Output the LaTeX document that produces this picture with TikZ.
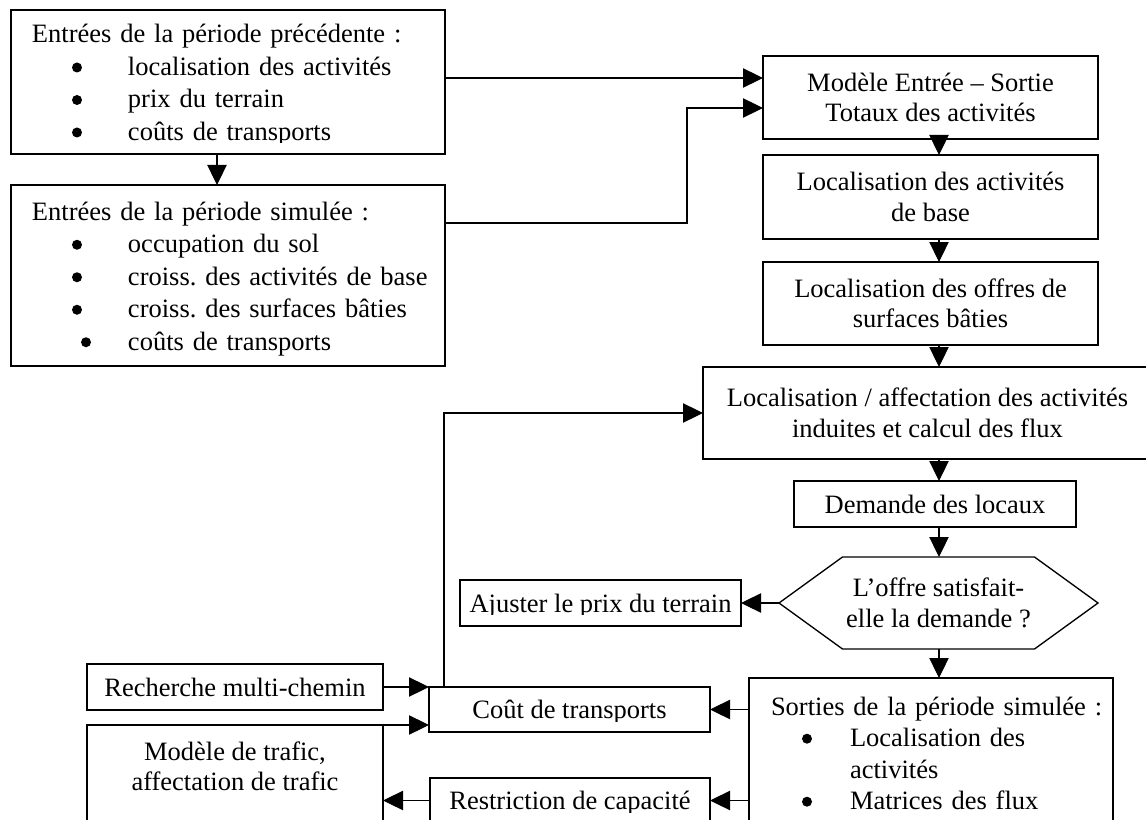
\documentclass[tikz,border=0pt]{standalone}
\usepackage{fontspec}
\setmainfont{Liberation Serif}
\usetikzlibrary{arrows.meta}
\frenchspacing

% one drawing unit (a "pixel" of the layout grid)
\newdimen\pxu \pxu=0.75pt
% strut that fixes line height/depth inside boxes
\newcommand\st{\rule[-0.2\baselineskip]{0pt}{\baselineskip}}
% round list bullet
\newcommand\bul{\tikz[baseline=-6pt]\fill (0,0) circle (3.75pt);}
% list item: bullet centre offset, text offset (from box edge), text
\newcommand\itm[3]{\hspace*{\dimexpr#1\pxu-5\pxu\relax}\makebox[10\pxu]{\bul}\hspace*{\dimexpr#2\pxu-#1\pxu-5\pxu\relax}#3\st}

\tikzset{
  txtfont/.style={font=\fontsize{19.875pt}{22.875pt}\selectfont},
  frame/.style={draw, line width=1pt, inner sep=0pt, outer sep=0pt, align=center, txtfont},
  bare/.style={frame, draw=none},
  listframe/.style={frame, align=left, text width=#1,
    font=\fontsize{19.875pt}{24.375pt}\selectfont},
  border/.style={line width=1pt},
  arr/.style={line width=0.8pt, -{Triangle[length=15pt,width=14.5pt]}},
}

\begin{document}
\begin{tikzpicture}[x=0.75pt, y=-0.75pt]
\useasboundingbox (0,0) rectangle (1146,820);
\clip (0,0) rectangle (1146,820);

% ---------- left column: inputs ----------
\begin{scope}
  \clip (0,0) rectangle (1146,142.5);
  \node[listframe=434\pxu, draw=none, minimum height=144\pxu] (prev) at (228,82) {%
    \hspace*{21\pxu}Entrées de la période précédente :\st\\
    \itm{66}{117}{localisation des activités}\\
    \itm{66}{117}{prix du terrain}\\
    \itm{66}{117}{coûts de transports}};
\end{scope}
\draw[border] (prev.north west) rectangle (prev.south east);

\node[listframe=434\pxu, minimum height=181\pxu] (sim) at (228,275.5) {%
  \hspace*{21\pxu}Entrées de la période simulée :\st\\
  \itm{66}{117}{occupation du sol}\\
  \itm{66}{117}{croiss. des activités de base}\\
  \itm{66}{117}{croiss. des surfaces bâties}\\
  \itm{75}{117}{coûts de transports}};

% ---------- right column: main chain ----------
\node[frame, minimum width=335\pxu, minimum height=83\pxu] (M) at (930.5,97.5)
  {Modèle Entrée – Sortie\st\\Totaux des activités\st};
\node[frame, minimum width=335\pxu, minimum height=84\pxu] (L1) at (930.5,197)
  {Localisation des activités\st\\de base\st};
\node[frame, minimum width=335\pxu, minimum height=83\pxu] (L2) at (930.5,303.5)
  {Localisation des offres de\st\\surfaces bâties\st};
\node[frame, minimum width=449\pxu, minimum height=92\pxu] (LA) at (927.5,413)
  {Localisation / affectation des activités\st\\induites et calcul des flux\st};
\node[frame, minimum width=282\pxu, minimum height=46\pxu] (dem) at (935,504)
  {Demande des locaux\st};

% decision hexagon
\node[bare, minimum width=319\pxu, minimum height=92\pxu] (hex) at (938.5,603)
  {L’offre satisfait-\st\\elle la demande ?\st};
\draw[border] (hex.west) -- ([xshift=63.5\pxu]hex.north west)
  -- ([xshift=-63.5\pxu]hex.north east) -- (hex.east)
  -- ([xshift=-63.5\pxu]hex.south east) -- ([xshift=63.5\pxu]hex.south west) -- cycle;

\begin{scope}
  \clip (0,0) rectangle (1146,614);
  \node[bare, minimum width=281\pxu, minimum height=46\pxu] (aj) at (600.5,603)
    {Ajuster le prix du terrain\st};
\end{scope}
\draw[border] (aj.north west) rectangle (aj.south east);

\node[listframe=364\pxu, minimum height=150\pxu,
      font=\fontsize{19.875pt}{23.625pt}\selectfont] (out) at (931,753) {%
  \hspace*{22\pxu}Sorties de la période simulée :\st\\
  \itm{58}{101}{Localisation des}\\
  \hspace*{101\pxu}activités\st\\
  \itm{58}{101}{Matrices des flux}};

% ---------- bottom: transport loop ----------
\begin{scope}
  \clip (0,0) rectangle (1146,721);
  \node[bare, minimum width=281\pxu, minimum height=45\pxu] (cout) at (569.5,709.5)
    {Coût de transports\st};
\end{scope}
\draw[border] (cout.north west) rectangle (cout.south east);

\begin{scope}
  \clip (0,0) rectangle (1146,812);
  \node[bare, minimum width=280\pxu, minimum height=45\pxu] (restr) at (570,800.5)
    {Restriction de capacité\st};
\end{scope}
\draw[border] (restr.north west) rectangle (restr.south east);

\node[frame, minimum width=296\pxu, minimum height=46\pxu] (rech) at (235,687)
  {Recherche multi-chemin\st};
\node[frame, minimum width=296\pxu, minimum height=113\pxu] (mt) at (235,781.5)
  {Modèle de trafic,\st\\affectation de trafic\st\\\st};

% ---------- connectors ----------
\coordinate (spine) at (939,0);
\coordinate (bend) at (687,108);
\coordinate (riser) at ([xshift=15\pxu]cout.north west);

\draw[arr] ([xshift=-11\pxu]prev.south) -- ([xshift=-11\pxu]sim.north);
\draw[arr] (prev.east |- 0,78) -- (M.west |- 0,78);
\draw[arr] (sim.east |- 0,223) -| (bend) -- (M.west |- bend);

\draw[arr] (M.south -| spine) -- (L1.north -| spine);
\draw[arr] (L1.south -| spine) -- (L2.north -| spine);
\draw[arr] (L2.south -| spine) -- (LA.north -| spine);
\draw[arr] (LA.south -| spine) -- (dem.north -| spine);
\draw[arr] (dem.south -| spine) -- (hex.north -| spine);
\draw[arr] (hex.south -| spine) -- (out.north -| spine);

\draw[arr] (hex.west) -- (aj.east);
\draw[arr] (out.west |- cout.east) -- (cout.east);
\draw[arr] (out.west |- restr.east) -- (restr.east);
\draw[arr] (restr.west) -- (restr.west -| mt.east);
\draw[arr] (rech.east) -- (rech.east -| cout.west);
\draw[arr] (mt.north east) -- (mt.north east -| cout.west);
\draw[arr] (riser) |- (LA.west);
\end{tikzpicture}
\end{document}
